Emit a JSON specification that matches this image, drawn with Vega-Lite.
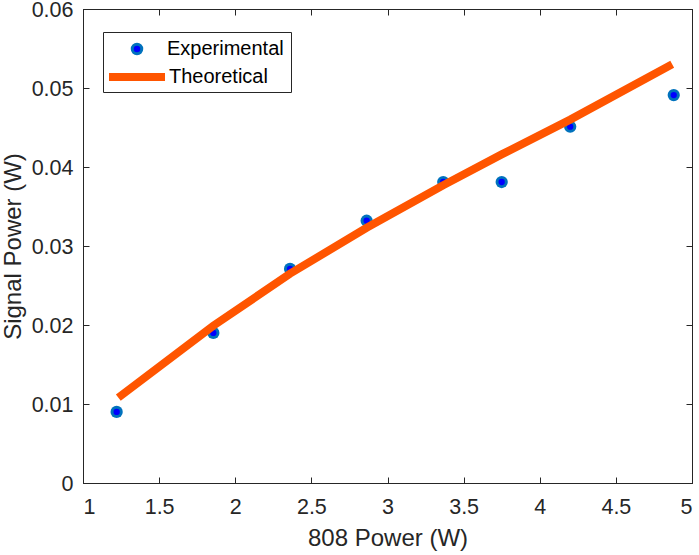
{
  "$schema": "https://vega.github.io/schema/vega-lite/v6.json",
  "width": 609,
  "height": 474,
  "autosize": "none",
  "padding": {"left": 83, "top": 9, "right": 7, "bottom": 72},
  "background": "white",
  "config": {
    "font": "Liberation Sans",
    "view": {"stroke": "#262626", "strokeWidth": 1},
    "axis": {
      "grid": false,
      "domainColor": "#262626",
      "tickColor": "#262626",
      "tickSize": -6,
      "labelColor": "#262626",
      "labelFont": "Liberation Sans",
      "labelFontSize": 21.5,
      "titleColor": "#262626",
      "titleFont": "Liberation Sans",
      "titleFontSize": 24,
      "titleFontWeight": "normal"
    },
    "legend": {
      "orient": "none",
      "direction": "vertical",
      "labelFont": "Liberation Sans",
      "labelFontSize": 20,
      "labelColor": "black"
    }
  },
  "data": {
    "values": [
      {"power": 1.221, "signal": 0.0090, "series": "Experimental"},
      {"power": 1.856, "signal": 0.0190, "series": "Experimental"},
      {"power": 2.360, "signal": 0.0271, "series": "Experimental"},
      {"power": 2.863, "signal": 0.0332, "series": "Experimental"},
      {"power": 3.366, "signal": 0.0381, "series": "Experimental"},
      {"power": 3.750, "signal": 0.0381, "series": "Experimental"},
      {"power": 4.200, "signal": 0.0451, "series": "Experimental"},
      {"power": 4.880, "signal": 0.0491, "series": "Experimental"},
      {"power": 1.232, "signal": 0.0108, "series": "Theoretical"},
      {"power": 1.856, "signal": 0.0199, "series": "Theoretical"},
      {"power": 2.360, "signal": 0.0265, "series": "Theoretical"},
      {"power": 2.863, "signal": 0.0323, "series": "Theoretical"},
      {"power": 3.366, "signal": 0.0377, "series": "Theoretical"},
      {"power": 3.750, "signal": 0.0416, "series": "Theoretical"},
      {"power": 4.200, "signal": 0.0460, "series": "Theoretical"},
      {"power": 4.870, "signal": 0.0530, "series": "Theoretical"}
    ]
  },
  "resolve": {"axis": {"x": "independent", "y": "independent"}},
  "layer": [
    {
      "transform": [{"filter": "datum.series == 'Experimental'"}],
      "mark": {"type": "point", "filled": true, "shape": "circle", "size": 150, "color": "#0072bd", "opacity": 1},
      "encoding": {
        "x": {
          "field": "power", "type": "quantitative",
          "scale": {"domain": [1, 5], "nice": false},
          "axis": {"orient": "top", "labels": false, "title": null, "values": [1, 1.5, 2, 2.5, 3, 3.5, 4, 4.5, 5]}
        },
        "y": {
          "field": "signal", "type": "quantitative",
          "scale": {"domain": [0, 0.06], "nice": false},
          "axis": {"orient": "right", "labels": false, "title": null, "values": [0, 0.01, 0.02, 0.03, 0.04, 0.05, 0.06]}
        }
      }
    },
    {
      "transform": [{"filter": "datum.series == 'Experimental'"}],
      "mark": {"type": "point", "filled": true, "shape": "circle", "size": 40, "opacity": 1},
      "encoding": {
        "x": {"field": "power", "type": "quantitative", "axis": null},
        "y": {"field": "signal", "type": "quantitative", "axis": null},
        "fill": {
          "field": "series", "type": "nominal",
          "scale": {"domain": ["Experimental"], "range": ["#0000ff"]},
          "legend": {
            "title": " ",
            "titleOrient": "bottom",
            "titleFontSize": 20,
            "titlePadding": 5,
            "legendX": 20,
            "legendY": 23,
            "strokeColor": "#262626",
            "fillColor": "white",
            "padding": 7,
            "symbolType": "circle",
            "symbolSize": 90,
            "symbolStrokeWidth": 3,
            "symbolStrokeColor": "#0072bd",
            "symbolOffset": 17,
            "labelOffset": 20
          }
        }
      }
    },
    {
      "transform": [{"filter": "datum.series == 'Theoretical'"}],
      "mark": {"type": "line", "strokeWidth": 8, "strokeCap": "butt"},
      "encoding": {
        "x": {
          "field": "power", "type": "quantitative",
          "title": "808 Power (W)",
          "axis": {"orient": "bottom", "format": "~g", "labelPadding": 19, "titlePadding": 9, "values": [1, 1.5, 2, 2.5, 3, 3.5, 4, 4.5, 5]}
        },
        "y": {
          "field": "signal", "type": "quantitative",
          "title": "Signal Power (W)",
          "axis": {"orient": "left", "format": "~g", "labelPadding": 16, "labelOffset": 1.5, "titlePadding": 6, "values": [0, 0.01, 0.02, 0.03, 0.04, 0.05, 0.06]}
        },
        "stroke": {
          "field": "series", "type": "nominal",
          "scale": {"domain": ["Theoretical"], "range": ["#ff5500"]},
          "legend": {
            "title": null,
            "legendX": 25,
            "legendY": 36,
            "padding": 0,
            "symbolType": "stroke",
            "symbolSize": 3136,
            "symbolStrokeWidth": 8,
            "symbolOffset": -3,
            "labelOffset": 0
          }
        }
      }
    }
  ]
}
